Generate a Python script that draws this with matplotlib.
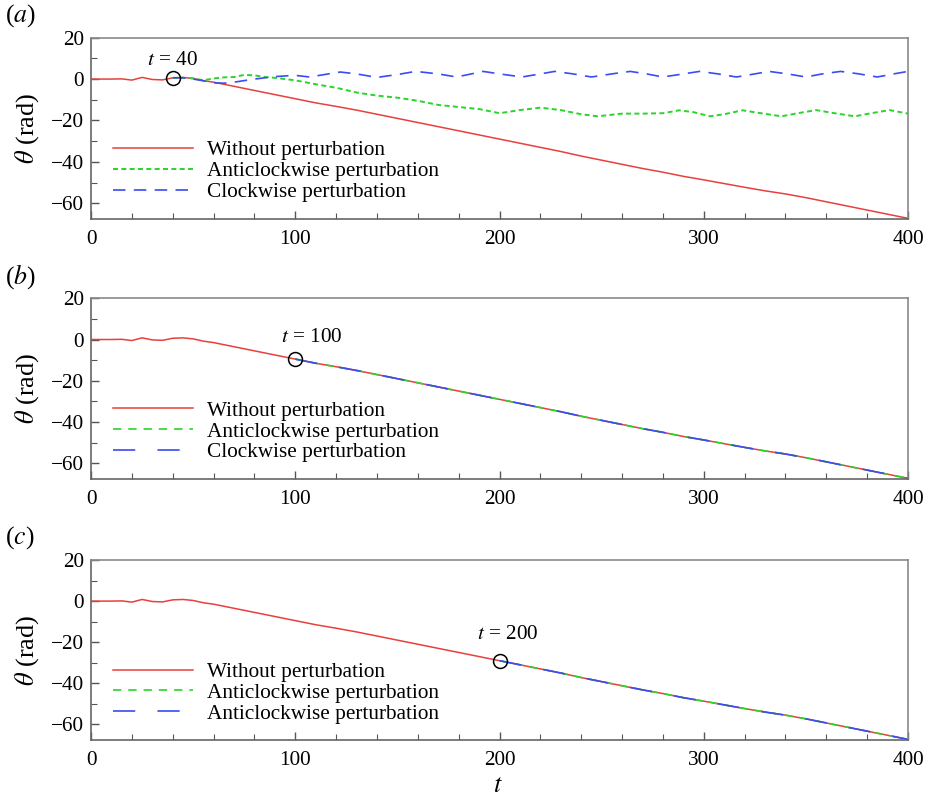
import matplotlib
matplotlib.use('Agg')
import matplotlib.pyplot as plt
from matplotlib.ticker import MultipleLocator

plt.rcParams['font.family'] = ['Liberation Serif', 'DejaVu Serif']
plt.rcParams['mathtext.fontset'] = 'stix'
plt.rcParams['font.size'] = 15.3
plt.rcParams['lines.scale_dashes'] = False

# unperturbed rotation angle theta(t)
t_base = [0, 5, 10, 15, 20, 25, 30, 35, 40, 45, 50, 55, 60, 70, 80, 90, 100,
          110, 120, 130, 140, 150, 160, 170, 180, 190, 200, 210, 220, 230, 240,
          250, 260, 270, 280, 290, 300, 310, 320, 330, 340, 350, 360, 370, 380,
          390, 400]
theta_base = [0, 0, 0, 0.1, -0.5, 0.8, -0.2, -0.4, 0.6, 0.8, 0.3, -0.8, -1.5,
              -3.5, -5.5, -7.5, -9.5, -11.5, -13.2, -15.0, -17.0, -19.0, -21.0,
              -23.0, -25.0, -27.0, -29.0, -31.0, -33.0, -35.0, -37.2, -39.2,
              -41.2, -43.2, -45.0, -47.0, -48.7, -50.5, -52.3, -54.0, -55.5,
              -57.3, -59.3, -61.3, -63.3, -65.3, -67.3]

# panel (a): perturbation at t = 40
t_anti_a = [40, 45, 50, 55, 60, 65, 70, 75, 80, 85, 90, 95, 100, 110, 120, 130,
            140, 150, 160, 170, 180, 190, 200, 210, 220, 230, 240, 248, 260,
            270, 280, 288, 295, 303, 310, 319, 328, 338, 346, 355, 364, 374,
            382, 391, 400]
theta_anti_a = [0.6, 0.6, 0.3, -0.6, 0.3, 0.8, 1.0, 2.0, 1.8, 1.0, 0.6, 0.0,
                -0.6, -2.5, -4.2, -6.5, -8.0, -9.0, -10.5, -12.5, -13.5, -14.5,
                -16.5, -15.0, -13.8, -15.0, -17.0, -18.0, -16.7, -16.7, -16.5,
                -15.1, -16.0, -18.0, -17.0, -15.1, -16.5, -18.0, -16.5, -15.0,
                -16.5, -18.0, -16.5, -15.0, -16.7]
t_clock_a = [40, 45, 50, 55, 60, 65, 70, 80, 90, 100, 107, 115, 122, 130, 140,
             150, 159, 170, 179, 192, 200, 211, 220, 227, 236, 245, 255, 264,
             272, 280, 290, 298, 307, 316, 325, 332, 341, 350, 358, 367, 376,
             385, 393, 400]
theta_clock_a = [0.6, 0.6, 0.0, -0.8, -1.8, -2.0, -1.5, 0.0, 1.2, 1.8, 1.0, 2.3,
                 3.4, 2.5, 0.8, 2.2, 3.7, 2.5, 1.0, 3.7, 2.5, 1.0, 2.5, 3.7,
                 2.5, 1.0, 2.5, 3.7, 2.5, 1.0, 2.5, 3.7, 2.5, 1.0, 2.5, 3.7,
                 2.5, 1.0, 2.5, 3.7, 2.5, 1.0, 2.5, 3.7]

# perturbation instants and their markers
t_perturb = [40, 100, 200]
theta_perturb = [0.3, -9.5, -29.0]
panel_tags = ['a', 'b', 'c']
legend_labels = [
    ['Without perturbation', 'Anticlockwise perturbation', 'Clockwise perturbation'],
    ['Without perturbation', 'Anticlockwise perturbation', 'Clockwise perturbation'],
    ['Without perturbation', 'Anticlockwise perturbation', 'Anticlockwise perturbation'],
]

red = '#e8403c'
green = '#2ad42a'
blue = '#3a4cf2'
spine_col = '#8a8a8a'

fig = plt.figure(figsize=(9.27, 8), dpi=100)
boxes = [[0.0982, 0.7263, 0.8813, 0.2266],
         [0.0982, 0.4013, 0.8813, 0.2259],
         [0.0982, 0.0750, 0.8813, 0.2250]]
tag_y = [1 - 16 / 800, 1 - 277 / 800, 1 - 538 / 800]
text_pos = [(40, 7.0), (108, -1.0), (204, -18.5)]

for i, box in enumerate(boxes):
    ax = fig.add_axes(box)
    ax.plot(t_base, theta_base, color=red, lw=1.1, label=legend_labels[i][0])
    if i == 0:
        ax.plot(t_anti_a, theta_anti_a, color=green, lw=1.4,
                dashes=(3.6, 2.4), label=legend_labels[i][1])
        ax.plot(t_clock_a, theta_clock_a, color=blue, lw=1.2,
                dashes=(9, 6), label=legend_labels[i][2])
    else:
        tp = t_perturb[i]
        ts = [t for t in t_base if t >= tp]
        ys = [y for t, y in zip(t_base, theta_base) if t >= tp]
        ax.plot(ts, ys, color=green, lw=1.2, dashes=(6, 5),
                label=legend_labels[i][1])
        ax.plot(ts, ys, color=blue, lw=1.2, dashes=(16, 16),
                label=legend_labels[i][2])

    ax.plot(t_perturb[i], theta_perturb[i], 'o', ms=10, mfc='none',
            mec='black', mew=1.1, zorder=5)
    ax.text(text_pos[i][0], text_pos[i][1], r'$t$ = %d' % t_perturb[i],
            ha='center', va='baseline', fontsize=15.3)

    ax.set_xlim(0, 400)
    ax.set_ylim(-67.6, 20)
    ax.set_yticks([-60, -40, -20, 0, 20])
    ax.set_xticks([0, 100, 200, 300, 400])
    ax.xaxis.set_minor_locator(MultipleLocator(20))
    ax.yaxis.set_minor_locator(MultipleLocator(10))
    ax.tick_params(which='both', direction='in', color='#555555',
                   labelsize=15.3, top=False, right=False)
    ax.tick_params(which='major', length=6, width=1.0)
    ax.tick_params(axis='x', which='major', pad=8)
    ax.tick_params(axis='y', which='major', pad=5)
    ax.tick_params(which='minor', length=4, width=0.8)
    for s in ax.spines.values():
        s.set_color(spine_col)
        s.set_linewidth(1.2)
    ax.spines['left'].set_color('#666666')
    ax.spines['bottom'].set_color('#666666')
    ax.set_ylabel(r'$\theta$ (rad)', fontsize=19, labelpad=7)

    ax.legend(loc='upper left', bbox_to_anchor=(0.016, 0.48), frameon=False,
              handlelength=3.8, handletextpad=0.66, labelspacing=0.05,
              borderaxespad=0, fontsize=15.3)

    fig.text(0.005, tag_y[i], r'($\mathit{%s}$)' % panel_tags[i],
             fontsize=18.5, va='center', ha='left')

fig.text(0.537, 1 - 786 / 800, r'$t$', fontsize=19, ha='center', va='center')

fig.savefig('out.png', dpi=100)
